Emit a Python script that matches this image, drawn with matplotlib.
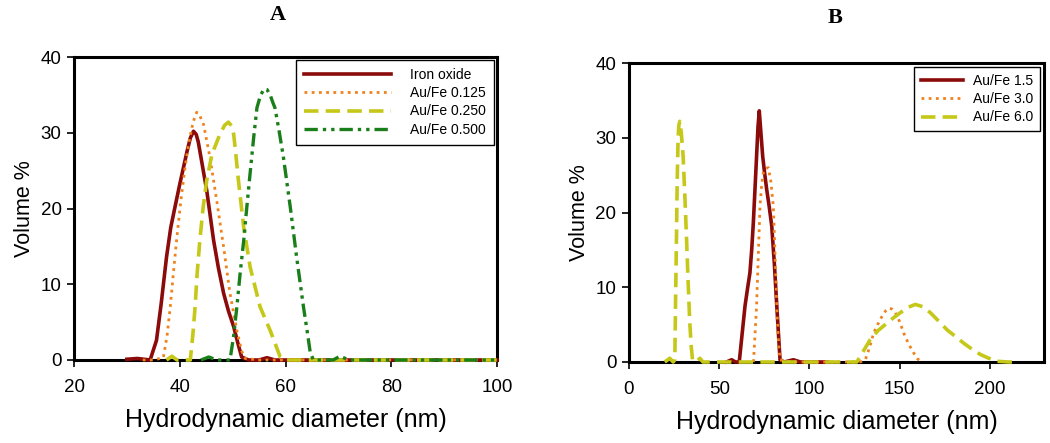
import matplotlib
matplotlib.use("Agg")
from matplotlib import pyplot as plt

plt.rcParams['font.family'] = ['Liberation Sans', 'DejaVu Sans']

# panel A: volume % vs hydrodynamic diameter (nm)
iron_x = [30, 32, 34.4, 35.6, 36.5, 37.5, 38.3, 39.1, 40.0, 40.7, 41.4, 42.0, 42.6, 43.1, 43.5,
          43.8, 44.4, 45.1, 46.4, 47.3, 48.3, 49.2, 50.2, 51.0, 51.7, 53, 55, 56.5, 58, 60,
          70, 80, 90, 100]
iron_y = [0.1, 0.2, 0, 2.6, 7.5, 13.6, 17.5, 20.2, 23.2, 25.4, 27.6, 29.3, 30.2, 29.8, 28.8,
          27.6, 25.2, 22.4, 15.8, 12.2, 8.8, 6.5, 4.4, 2.2, 0.4, 0, 0, 0.3, 0, 0,
          0, 0, 0, 0]

a125_x = [33, 35, 36.9, 37.6, 38.2, 38.8, 39.4, 40.2, 41.0, 41.7, 42.3, 42.8, 43.2, 43.7,
          44.5, 45.7, 47.0, 48.3, 49.5, 50.8, 51.7, 52.4, 55, 60, 70, 80, 90, 100]
a125_y = [0, 0, 0.3, 3.2, 7, 11.5, 15.8, 21.0, 25.4, 28.6, 30.7, 32.0, 32.7, 32.4,
          31.1, 26.8, 21, 14.9, 8.8, 3.9, 1.2, 0.2, 0, 0, 0, 0, 0, 0]

a250_x = [37.5, 38.5, 39.5, 42.0, 42.5, 42.9, 43.3, 43.8, 44.4, 45.1, 46.1, 47.6, 48.5,
          49.2, 49.8, 50.2, 50.6, 51.1, 52.1, 53.3, 55.2, 57.1, 59.0, 60, 70, 80, 90, 100]
a250_y = [0, 0.5, 0, 0, 3.5, 7, 11.5, 15.8, 20.0, 23.7, 27.2, 29.8, 31.0,
          31.4, 30.9, 29.8, 27.2, 23.7, 17.5, 12.3, 7, 3.9, 0.4, 0, 0, 0, 0, 0]

a500_x = [44, 45.5, 47, 49.5, 50.2, 50.8, 51.4, 52.1, 52.7, 53.3, 54.0, 54.6, 55.3, 56.0,
          56.5, 57.1, 57.6, 58.0, 58.8, 59.6, 60.9, 62.1, 63.4, 64.1, 64.7, 65.3, 69, 70.3,
          72, 80, 90, 100]
a500_y = [0, 0.4, 0, 0, 3.2, 7, 11.3, 15.8, 20.3, 24.6, 29.5, 33.3, 35.0, 35.8,
          35.7, 35.0, 34.0, 33.3, 30.2, 26.8, 20.2, 13.6, 7, 3.8, 0.9, 0, 0, 0.5,
          0, 0, 0, 0]

# panel B
b15_x = [54, 56.9, 59, 61.1, 62.8, 64.3, 65.8, 67.0, 68.0, 68.9, 69.8, 70.7, 71.5, 72.2,
         73.0, 74.1, 75.2, 76.3, 77.7, 79.1, 80.6, 81.9, 82.9, 83.7, 86, 91.1, 95, 110]
b15_y = [0, 0.3, 0, 0, 4.0, 7.5, 10.0, 11.9, 15.0, 18.6, 23.0, 27.5, 31.5, 33.6,
         31.0, 27.5, 25.2, 23.1, 20.8, 18.2, 13.0, 7.5, 3.5, 0.3, 0, 0.3, 0, 0]

b30_x = [69, 70.7, 71.7, 72.6, 73.5, 74.4, 75.8, 77.2, 78.6, 80.0, 81.0, 81.9, 82.8, 83.7,
         90, 110, 128, 131, 133.4, 135.6, 138.0, 140.2, 142.1, 143.9, 145.7, 147.6, 150.0,
         152.2, 155.0, 157.8, 160.0, 162.4]
b30_y = [0, 7.5, 14.5, 20.8, 23.6, 25.3, 25.9, 26.0, 24.2, 20.8, 14.0, 7.5, 3.0, 0.3,
         0, 0, 0, 0.3, 2.0, 3.9, 5.1, 6.1, 6.8, 7.2, 7.1, 6.6, 5.4,
         3.9, 2.4, 1.2, 0.4, 0]

b60_x = [19.8, 22.6, 24.5, 25.4, 25.8, 26.3, 26.7, 27.2, 27.6, 28.1, 29.0, 30.0, 31.0,
         31.9, 32.8, 33.7, 34.5, 35.2, 37, 39.3, 41, 60, 100, 126.3, 130.0, 133.7, 138.0,
         143, 146.5, 150.4, 154.5, 158.7, 162.8, 167, 171.5, 176.3, 181.0, 185.6, 190.2,
         194.8, 199.4, 204, 210, 215]
b60_y = [0, 0.5, 0, 0.3, 8.0, 16.4, 24.0, 29.8, 31.6, 32.2, 30.6, 27.5, 22.0,
         16.4, 10.5, 5.2, 2.0, 0.3, 0, 0.5, 0, 0, 0, 0, 1.5, 3, 4.2,
         5.2, 5.9, 6.6, 7.3, 7.7, 7.4, 6.6, 5.5, 4.3, 3.4, 2.5, 1.7,
         1.0, 0.5, 0.1, 0, 0]

dark_red = '#8b0a0a'
orange = '#f0821e'
yellow = '#c5c818'
green = '#1a7f1a'
dotted = (0, (1, 1.6))
dashed = (0, (4, 2))
dashdotdot = (0, (4, 1.5, 1, 1.5, 1, 1.5))

fig = plt.figure(figsize=(10.5, 4.43), dpi=100)
axA = fig.add_axes([74/1050, 1 - 360/443, 423/1050, 303/443])
axB = fig.add_axes([629/1050, 1 - 362/443, 415/1050, 299/443])

kw = dict(clip_on=False, zorder=3)
axA.plot(iron_x, iron_y, color=dark_red, lw=2.6, label='Iron oxide', **kw)
axA.plot(a125_x, a125_y, color=orange, lw=2.0, ls=dotted, label='Au/Fe 0.125', **kw)
axA.plot(a250_x, a250_y, color=yellow, lw=2.6, ls=dashed, label='Au/Fe 0.250', **kw)
axA.plot(a500_x, a500_y, color=green, lw=2.4, ls=dashdotdot, label='Au/Fe 0.500', **kw)

axB.plot(b15_x, b15_y, color=dark_red, lw=2.6, label='Au/Fe 1.5', **kw)
axB.plot(b30_x, b30_y, color=orange, lw=2.0, ls=dotted, label='Au/Fe 3.0', **kw)
axB.plot(b60_x, b60_y, color=yellow, lw=2.6, ls=dashed, label='Au/Fe 6.0', **kw)

for ax in (axA, axB):
    ax.set_ylim(0, 40)
    ax.set_yticks([0, 10, 20, 30, 40])
    for s in ax.spines.values():
        s.set_linewidth(2.2)
    ax.tick_params(direction='out', length=5, width=1.2, labelsize=13.5, pad=4)
    ax.tick_params(axis='x', pad=9)
    ax.set_ylabel('Volume %', fontsize=15.5, labelpad=4)
    ax.set_xlabel('Hydrodynamic diameter (nm)', fontsize=18, labelpad=8)

legA = axA.legend(loc='upper right', fontsize=10, handlelength=6.2, fancybox=False,
                  borderaxespad=0.2, borderpad=0.6, labelspacing=0.3, handletextpad=1.4)
legB = axB.legend(loc='upper right', fontsize=10, handlelength=3.0, fancybox=False,
                  borderaxespad=0.3, borderpad=0.5, labelspacing=0.3, handletextpad=0.7)
for leg in (legA, legB):
    leg.get_frame().set_edgecolor('black')
    leg.get_frame().set_linewidth(1.0)
    leg.get_frame().set_alpha(1)

axA.set_xlim(20, 100)
axA.set_xticks([20, 40, 60, 80, 100])
axB.set_xlim(0, 230)
axB.set_xticks([0, 50, 100, 150, 200])

fig.text(278/1050, 1 - 15/443, 'A', ha='center', va='center', fontsize=16,
         fontweight='bold', family='Liberation Serif')
fig.text(835/1050, 1 - 18/443, 'B', ha='center', va='center', fontsize=16,
         fontweight='bold', family='Liberation Serif')

plt.savefig('out.png', dpi=100)
